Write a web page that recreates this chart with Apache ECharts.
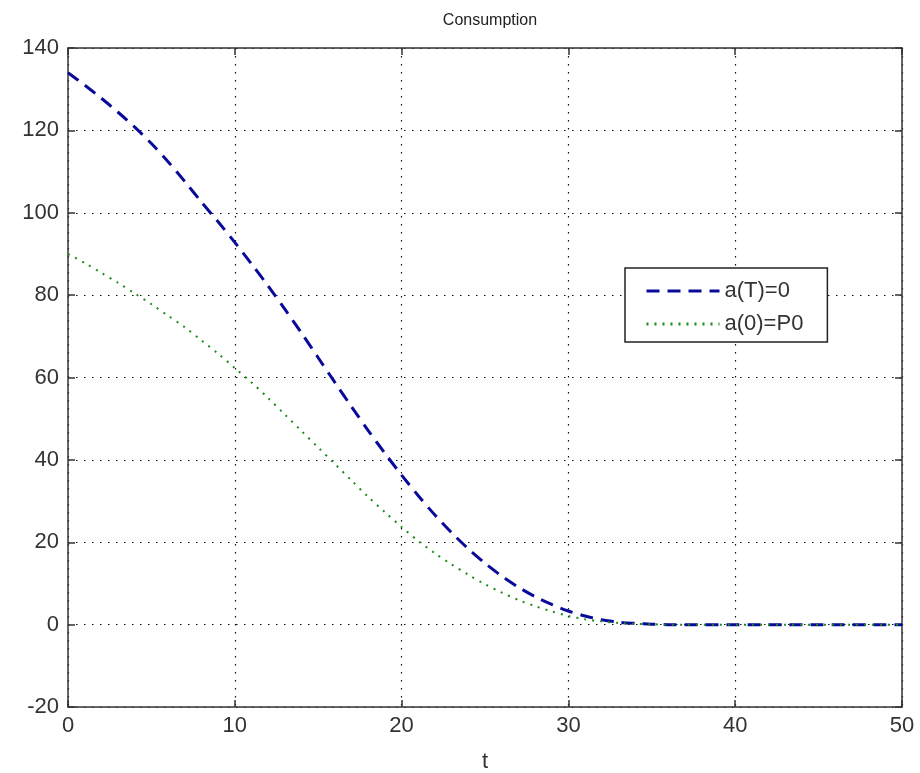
<!DOCTYPE html>
<html>
<head>
<meta charset="utf-8">
<script src="https://cdn.jsdelivr.net/npm/echarts@6/dist/echarts.min.js"></script>
<style>
html,body{margin:0;padding:0;background:#fff;}
#main{width:920px;height:773px;}
</style>
</head>
<body>
<div id="main"></div>
<script>
var tVals = [0,1,2,3,4,5,6,7,8,9,10,11,12,13,14,15,16,17,18,19,20,21,22,23,24,25,26,27,28,29,30,31,32,33,34,35,36,37,38,39,40,41,42,43,44,45,46,47,48,49,50];
var aT0 = [134,131,127.8,124.4,120.8,116.8,112.4,107.6,102.6,97.8,92.8,87.6,82.2,76.6,70.8,64.8,58.8,52.9,47.1,41.6,36.3,31.3,26.6,22.3,18.4,14.9,11.8,9.1,6.8,4.9,3.3,2.1,1.2,0.6,0.3,0.1,0,0,0,0,0,0,0,0,0,0,0,0,0,0,0];
var a0P0 = [90,87.8,85.4,83,80.4,77.8,75,72.2,69,65.8,62.3,58.8,55,51,47,43,39,35,31,27.3,23.7,20.3,17.3,14.6,12.1,9.8,7.8,6,4.5,3.2,2.1,1.3,0.8,0.4,0.2,0.1,0,0,0,0,0,0,0,0,0,0,0,0,0,0,0];
var xTicks = [0,10,20,30,40,50];
var yTicks = [-20,0,20,40,60,80,100,120,140];

var pairs = function(ys){
	var out = [];
	for(var i=0;i<tVals.length;i++){
		out.push([tVals[i], ys[i]]);
	}
	return out;
};

var font = 'Liberation Sans, Arial, sans-serif';
var axisLine = {show:true, onZero:false, lineStyle:{color:'#333', width:1.5}};
var tick = {show:true, inside:true, length:7, lineStyle:{color:'#333', width:1.5}};
var grid = {show:true, lineStyle:{color:'#111', type:[1.5,6.5], width:1.2}};

var chart = echarts.init(document.getElementById('main'));
chart.setOption({
	backgroundColor:'#fff',
	animation:false,
	title:{
		text:'Consumption',
		left:485,
		textAlign:'center',
		top:8,
		textStyle:{fontFamily:font, fontSize:16, fontWeight:'normal', color:'#222'}
	},
	legend:{
		data:['a(T)=0','a(0)=P0'],
		orient:'vertical',
		left:625,
		top:268,
		itemWidth:73,
		itemHeight:14,
		itemGap:11,
		padding:[12,24,7,20],
		backgroundColor:'#fff',
		borderColor:'#222',
		borderWidth:1.5,
		borderRadius:0,
		itemStyle:{opacity:0},
		lineStyle:{width:3},
		textStyle:{fontFamily:font, fontSize:22, lineHeight:22, color:'#333'}
	},
	grid:{left:68, top:48, right:18, bottom:66, outerBoundsMode:'none', containLabel:false},
	xAxis:[{
		type:'value', min:0, max:50, interval:10,
		name:'t', nameLocation:'middle', nameGap:44,
		nameTextStyle:{fontFamily:font, fontSize:22, color:'#333'},
		axisLine:axisLine, axisTick:tick, splitLine:grid,
		axisLabel:{fontFamily:font, fontSize:22, color:'#333', margin:8,
			formatter:function(v){return xTicks.indexOf(v)>=0 ? String(v) : '';}}
	},{
		type:'value', position:'top', min:0, max:50, interval:10,
		axisLine:axisLine, axisTick:tick, splitLine:{show:false}, axisLabel:{show:false}
	}],
	yAxis:[{
		type:'value', min:-20, max:140, interval:20,
		axisLine:axisLine, axisTick:tick, splitLine:grid,
		axisLabel:{fontFamily:font, fontSize:22, color:'#333', margin:9,
			formatter:function(v){return yTicks.indexOf(v)>=0 ? String(v) : '';}}
	},{
		type:'value', position:'right', min:-20, max:140, interval:20,
		axisLine:axisLine, axisTick:tick, splitLine:{show:false}, axisLabel:{show:false}
	}],
	series:[{
		name:'a(T)=0',
		type:'line',
		showSymbol:false,
		symbol:'none',
		smooth:0.3,
		data:pairs(aT0),
		color:'#0a0a9a',
		lineStyle:{color:'#0a0a9a', width:3, type:[13,8]}
	},{
		name:'a(0)=P0',
		type:'line',
		showSymbol:false,
		symbol:'none',
		smooth:0.3,
		data:pairs(a0P0),
		color:'#1a8a1a',
		lineStyle:{color:'#1a8a1a', width:2, type:[2,6]}
	}]
});
</script>
</body>
</html>
